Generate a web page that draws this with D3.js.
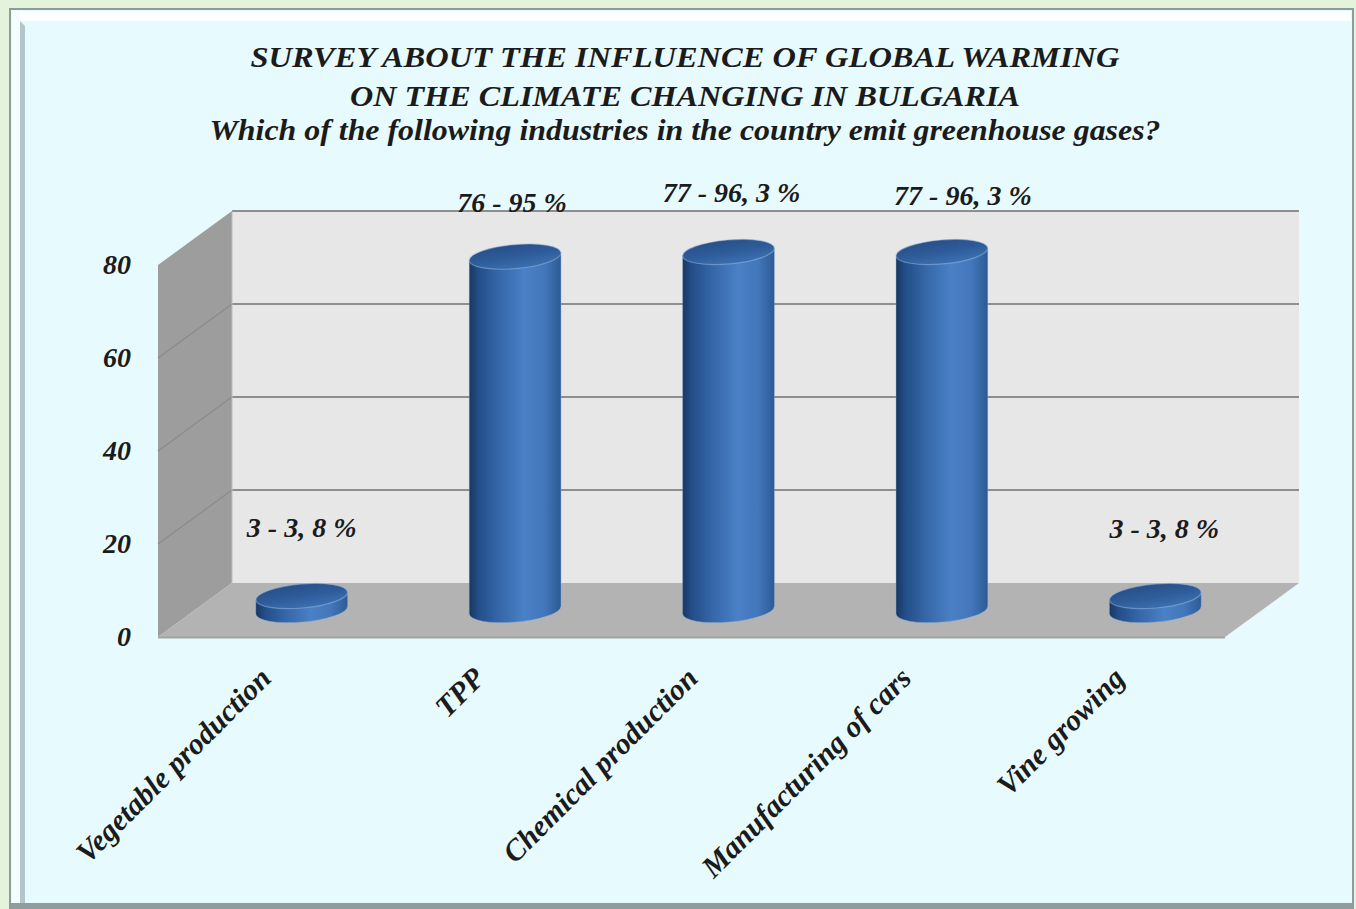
<!DOCTYPE html>
<html>
<head>
<meta charset="utf-8">
<script src="https://cdn.jsdelivr.net/npm/d3@7"></script>
<style>
  html, body { margin: 0; padding: 0; background: #e4f3dc; }
  svg { display: block; }
  text {
    font-family: "Liberation Serif", "Times New Roman", serif;
    font-style: italic;
    font-weight: bold;
    fill: #1b1b1b;
  }
</style>
</head>
<body>
<svg id="chart" width="1356" height="909"></svg>
<script>
// ---- chart data ----
const titleLines = [
  "SURVEY ABOUT THE INFLUENCE OF GLOBAL WARMING",
  "ON THE CLIMATE CHANGING IN BULGARIA",
  "Which of the following industries in the country emit greenhouse gases?"
];
const categories = [
  "Vegetable production",
  "TPP",
  "Chemical production",
  "Manufacturing of cars",
  "Vine growing"
];
const respondents = [3, 76, 77, 77, 3];        // number of answers
const percents = [3.8, 95, 96.3, 96.3, 3.8];   // share of respondents, %
const yTicks = [0, 20, 40, 60, 80];

// ---- layout ----
const W = 1356, H = 909;
const front = { left: 158, right: 1225, bottom: 637, top: 265 };
const depth = { dx: 74, dy: -54 };   // offset from front plane to back wall

const svg = d3.select("#chart");

const x = d3.scaleBand()
  .domain(categories)
  .range([front.left, front.right])
  .paddingInner(0).paddingOuter(0);

const y = d3.scaleLinear()
  .domain([0, 80])
  .range([front.bottom, front.top]);

// ---- frame ----
svg.append("rect").attr("x", 0).attr("y", 0).attr("width", W).attr("height", H).attr("fill", "#e4f3dc");
svg.append("rect").attr("x", 10).attr("y", 9).attr("width", 1343).attr("height", 905)
  .attr("fill", "#e7fafd").attr("stroke", "#8d9b9d").attr("stroke-width", 2);
svg.append("rect").attr("x", 12).attr("y", 11).attr("width", 1339).attr("height", 10).attr("fill", "#fbffff");
svg.append("rect").attr("x", 12).attr("y", 11).attr("width", 8).attr("height", 893).attr("fill", "#f4fdfe");
svg.append("polygon")
  .attr("points", "20,21 25,26 25,904 20,904")
  .attr("fill", "#b3c5cb");
svg.append("rect").attr("x", 10).attr("y", 903).attr("width", 1343).attr("height", 6).attr("fill", "#8f9d9f");

// ---- title ----
const titleY = [67, 106, 140];
const titleLen = [869, 670, 951];
svg.append("g").selectAll("text")
  .data(titleLines)
  .join("text")
  .attr("x", 685)
  .attr("y", (d, i) => titleY[i])
  .attr("text-anchor", "middle")
  .attr("font-size", 30)
  .attr("textLength", (d, i) => titleLen[i])
  .attr("lengthAdjust", "spacingAndGlyphs")
  .text(d => d);

// ---- 3D walls ----
const walls = svg.append("g");
const backL = front.left + depth.dx, backR = front.right + depth.dx;
const yBack = v => y(v) + depth.dy;

// side wall
walls.append("polygon")
  .attr("points", [
    [front.left, y(0)], [front.left, y(80)], [backL, yBack(80)], [backL, yBack(0)]
  ].map(p => p.join(",")).join(" "))
  .attr("fill", "#9d9d9d");

// back wall
walls.append("rect")
  .attr("x", backL).attr("y", yBack(80))
  .attr("width", backR - backL).attr("height", yBack(0) - yBack(80))
  .attr("fill", "#e7e7e7");

// floor
walls.append("polygon")
  .attr("points", [
    [front.left, y(0)], [front.right, y(0)], [backR, yBack(0)], [backL, yBack(0)]
  ].map(p => p.join(",")).join(" "))
  .attr("fill", "#b3b3b3");
walls.append("line")
  .attr("x1", front.left).attr("x2", front.right)
  .attr("y1", y(0) + 0.5).attr("y2", y(0) + 0.5)
  .attr("stroke", "#a3a3a3").attr("stroke-width", 2);

// gridlines: back wall + side wall
yTicks.filter(v => v > 0).forEach(v => {
  walls.append("line")
    .attr("x1", backL).attr("x2", backR)
    .attr("y1", yBack(v)).attr("y2", yBack(v))
    .attr("stroke", "#8e8e8e").attr("stroke-width", 2);
  if (v < 80) {
    walls.append("line")
      .attr("x1", front.left).attr("y1", y(v))
      .attr("x2", backL).attr("y2", yBack(v))
      .attr("stroke", "#8a8a8a").attr("stroke-width", 1.2);
  }
});
walls.append("line")
  .attr("x1", backL).attr("x2", backL)
  .attr("y1", yBack(80)).attr("y2", yBack(0))
  .attr("stroke", "#bdbdbd").attr("stroke-width", 1);

// ---- y axis ----
const yAxis = d3.axisLeft(y).tickValues(yTicks).tickSize(0).tickPadding(27);
const gy = svg.append("g").attr("transform", `translate(${front.left},0)`).call(yAxis);
gy.select(".domain").remove();
gy.selectAll("text")
  .attr("font-size", 28)
  .attr("font-family", "Liberation Serif, serif")
  .attr("fill", "#1b1b1b");

// ---- cylinders ----
const defs = svg.append("defs");
const bodyGrad = defs.append("linearGradient").attr("id", "cylBody")
  .attr("x1", "0").attr("x2", "1").attr("y1", "0").attr("y2", "0");
[[0, "#173862"], [0.1, "#234e88"], [0.32, "#3566a8"], [0.6, "#4a80c6"], [0.82, "#4377bb"], [1, "#2d5a94"]]
  .forEach(([o, c]) => bodyGrad.append("stop").attr("offset", o).attr("stop-color", c));
const topGrad = defs.append("linearGradient").attr("id", "cylTop")
  .attr("x1", "0").attr("x2", "0.3").attr("y1", "0").attr("y2", "1");
[[0, "#274d83"], [0.6, "#2e5c9a"], [1, "#3a6cad"]]
  .forEach(([o, c]) => topGrad.append("stop").attr("offset", o).attr("stop-color", c));

const rx = 46, ry = 12, tilt = -5;            // ellipse radii and tilt (deg)
const th = tilt * Math.PI / 180;
// horizontal extremes of a tilted ellipse, relative to its centre
const t0 = Math.atan2(-ry * Math.sin(th), rx * Math.cos(th));
const ex = rx * Math.cos(t0) * Math.cos(th) - ry * Math.sin(t0) * Math.sin(th);
const ey = rx * Math.cos(t0) * Math.sin(th) + ry * Math.sin(t0) * Math.cos(th);

const bars = respondents.map((v, i) => {
  const cx = x(categories[i]) + x.bandwidth() / 2 + depth.dx / 2;
  return {
    v, i, cx,
    topY: y(v) + depth.dy / 2,
    baseY: y(0) + depth.dy / 2
  };
});

const gBars = svg.append("g");
bars.forEach(b => {
  const g = gBars.append("g");
  const Lt = [b.cx - ex, b.topY - ey], Rt = [b.cx + ex, b.topY + ey];
  const Lb = [b.cx - ex, b.baseY - ey], Rb = [b.cx + ex, b.baseY + ey];
  const path = `M${Lt[0]},${Lt[1]} L${Lb[0]},${Lb[1]} ` +
    `A${rx},${ry} ${tilt} 0 0 ${Rb[0]},${Rb[1]} L${Rt[0]},${Rt[1]} Z`;
  g.append("path").attr("d", path).attr("fill", "url(#cylBody)")
    .attr("stroke", "#7aa2d6").attr("stroke-opacity", 0.35).attr("stroke-width", 1);
  g.append("ellipse")
    .attr("cx", b.cx).attr("cy", b.topY).attr("rx", rx).attr("ry", ry)
    .attr("transform", `rotate(${tilt},${b.cx},${b.topY})`)
    .attr("fill", "url(#cylTop)")
    .attr("stroke", "#9dbbe2").attr("stroke-opacity", 0.5).attr("stroke-width", 1.2);
});

// ---- value labels ----
const labelNudge = [[0, -14], [-3, 0], [3, -5], [21, -2], [9, -13]];
const fmtPct = p => String(p).replace(".", ", ");
svg.append("g").selectAll("text")
  .data(bars)
  .join("text")
  .attr("x", d => d.cx + labelNudge[d.i][0])
  .attr("y", d => d.topY - 45 + labelNudge[d.i][1])
  .attr("text-anchor", "middle")
  .attr("font-size", 28)
  .text(d => `${respondents[d.i]} - ${fmtPct(percents[d.i])} %`);

// ---- category labels ----
svg.append("g").selectAll("text")
  .data(categories)
  .join("text")
  .attr("text-anchor", "end")
  .attr("font-size", 30)
  .attr("transform", d => `translate(${x(d) + x.bandwidth() / 2 + 8},${680}) rotate(-45)`)
  .text(d => d);
</script>
</body>
</html>
